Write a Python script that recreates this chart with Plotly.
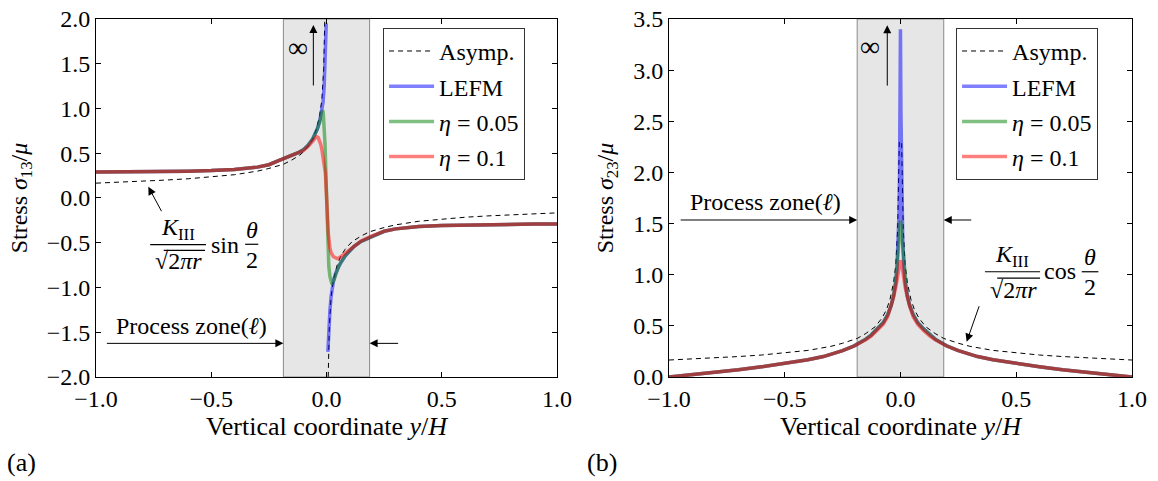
import plotly.graph_objects as go

# ---------------- data ----------------
# (a) stress sigma_13 / mu
x13_asym = [-1.0, -0.9, -0.8, -0.7, -0.6, -0.5, -0.4, -0.3, -0.25, -0.186, -0.15, -0.11, -0.08, -0.06,
            -0.045, -0.03, -0.02, -0.012, -0.008, -0.005, None,
            0.005, 0.008, 0.012, 0.02, 0.03, 0.045, 0.06, 0.08, 0.11, 0.15, 0.186, 0.25, 0.3, 0.4,
            0.5, 0.6, 0.7, 0.8, 0.9, 1.0]
s13_asym = [0.166, 0.176, 0.187, 0.200, 0.215, 0.235, 0.260, 0.300, 0.330, 0.378, 0.425, 0.49, 0.575, 0.66,
            0.76, 0.92, 1.10, 1.45, 1.82, 2.30, None,
            -2.30, -1.82, -1.45, -1.10, -0.92, -0.76, -0.66, -0.575, -0.49, -0.425, -0.378, -0.330, -0.300, -0.260,
            -0.235, -0.215, -0.200, -0.187, -0.176, -0.166]

x13_lefm = [-1.0, -0.9, -0.8, -0.7, -0.6, -0.5, -0.4, -0.3, -0.25, -0.2, -0.15, -0.12, -0.1, -0.08, -0.06,
            -0.05, -0.04, -0.03, -0.02, -0.015, -0.01, -0.007, -0.004, -0.001, None,
            0.006, 0.01, 0.015, 0.02, 0.025, 0.03, 0.04, 0.05, 0.06, 0.08, 0.1, 0.12, 0.15, 0.2, 0.25,
            0.3, 0.4, 0.5, 0.6, 0.7, 0.8, 0.9, 1.0]
s13_lefm = [0.290, 0.291, 0.293, 0.296, 0.300, 0.306, 0.318, 0.345, 0.372, 0.425, 0.475, 0.51, 0.54, 0.59, 0.66,
            0.71, 0.77, 0.85, 0.97, 1.07, 1.25, 1.42, 1.65, 1.95, None,
            -1.72, -1.45, -1.25, -1.10, -1.00, -0.93, -0.84, -0.78, -0.73, -0.65, -0.59, -0.54, -0.485, -0.425, -0.372,
            -0.345, -0.318, -0.306, -0.300, -0.296, -0.293, -0.291, -0.290]

x13_eta005 = [-1.0, -0.9, -0.8, -0.7, -0.6, -0.5, -0.4, -0.3, -0.25, -0.2, -0.15, -0.12, -0.1, -0.08, -0.06,
              -0.05, -0.04, -0.03, -0.025, -0.02, -0.017, -0.014, -0.01, -0.006, -0.003, 0.0,
              0.003, 0.006, 0.01, 0.015, 0.02, 0.024, 0.03, 0.04, 0.05, 0.06, 0.08, 0.1, 0.12, 0.15,
              0.2, 0.25, 0.3, 0.4, 0.5, 0.6, 0.7, 0.8, 0.9, 1.0]
s13_eta005 = [0.290, 0.291, 0.293, 0.296, 0.300, 0.306, 0.318, 0.345, 0.372, 0.425, 0.475, 0.51, 0.54, 0.59, 0.66,
              0.71, 0.77, 0.85, 0.905, 0.96, 0.98, 0.95, 0.82, 0.58, 0.30, 0.0,
              -0.30, -0.55, -0.76, -0.88, -0.95, -0.965, -0.93, -0.84, -0.78, -0.73, -0.65, -0.59, -0.54, -0.485,
              -0.425, -0.372, -0.345, -0.318, -0.306, -0.300, -0.296, -0.293, -0.291, -0.290]

x13_eta01 = [-1.0, -0.9, -0.8, -0.7, -0.6, -0.5, -0.4, -0.3, -0.25, -0.2, -0.15, -0.12, -0.1, -0.08, -0.06,
             -0.05, -0.043, -0.036, -0.03, -0.025, -0.02, -0.015, -0.01, -0.005, 0.0,
             0.004, 0.008, 0.015, 0.02, 0.03, 0.04, 0.047, 0.055, 0.07, 0.087, 0.1, 0.12, 0.15, 0.2,
             0.25, 0.3, 0.4, 0.5, 0.6, 0.7, 0.8, 0.9, 1.0]
s13_eta01 = [0.290, 0.291, 0.293, 0.296, 0.300, 0.306, 0.318, 0.345, 0.372, 0.425, 0.475, 0.505, 0.53, 0.575, 0.635,
             0.665, 0.685, 0.675, 0.64, 0.60, 0.54, 0.47, 0.40, 0.28, 0.03,
             -0.19, -0.40, -0.56, -0.61, -0.655, -0.675, -0.678, -0.67, -0.64, -0.60, -0.575, -0.53, -0.48, -0.42,
             -0.372, -0.345, -0.318, -0.306, -0.300, -0.296, -0.293, -0.291, -0.290]

# (b) stress sigma_23 / mu
x23_asym = [-1.0, -0.9, -0.8, -0.7, -0.6, -0.5, -0.4, -0.3, -0.25, -0.186, -0.15, -0.11, -0.08, -0.06,
            -0.045, -0.03, -0.02, -0.012, -0.008, -0.005,
            0.005, 0.008, 0.012, 0.02, 0.03, 0.045, 0.06, 0.08, 0.11, 0.15, 0.186, 0.25, 0.3, 0.4,
            0.5, 0.6, 0.7, 0.8, 0.9, 1.0]
s23_asym = [0.166, 0.176, 0.187, 0.200, 0.215, 0.235, 0.260, 0.300, 0.330, 0.378, 0.425, 0.49, 0.575, 0.66,
            0.76, 0.92, 1.10, 1.45, 1.82, 2.30,
            2.30, 1.82, 1.45, 1.10, 0.92, 0.76, 0.66, 0.575, 0.49, 0.425, 0.378, 0.330, 0.300, 0.260,
            0.235, 0.215, 0.200, 0.187, 0.176, 0.166]

x23_lefm = [-1.0, -0.9, -0.8, -0.7, -0.6, -0.5, -0.4, -0.333, -0.3, -0.25, -0.2, -0.186, -0.15, -0.127, -0.1,
            -0.075, -0.055, -0.04, -0.03, -0.02, -0.015, -0.01, -0.0065, -0.004, -0.002, 0.0,
            0.002, 0.004, 0.0065, 0.01, 0.015, 0.02, 0.03, 0.04, 0.055, 0.075, 0.1, 0.127, 0.15, 0.186,
            0.2, 0.25, 0.3, 0.333, 0.4, 0.5, 0.6, 0.7, 0.8, 0.9, 1.0]
s23_lefm = [0.0, 0.022, 0.045, 0.070, 0.100, 0.130, 0.168, 0.200, 0.222, 0.258, 0.305, 0.322, 0.37, 0.41, 0.47,
            0.53, 0.61, 0.70, 0.79, 0.93, 1.08, 1.32, 1.58, 2.0, 2.6, 3.40,
            2.6, 2.0, 1.58, 1.32, 1.08, 0.93, 0.79, 0.70, 0.61, 0.53, 0.47, 0.41, 0.37, 0.322,
            0.305, 0.258, 0.222, 0.200, 0.168, 0.130, 0.100, 0.070, 0.045, 0.022, 0.0]

x23_eta005 = [-1.0, -0.9, -0.8, -0.7, -0.6, -0.5, -0.4, -0.333, -0.3, -0.25, -0.2, -0.186, -0.15, -0.127, -0.1,
              -0.075, -0.055, -0.04, -0.03, -0.025, -0.02, -0.016, -0.012, -0.008, -0.004, 0.0,
              0.004, 0.008, 0.012, 0.016, 0.02, 0.025, 0.03, 0.04, 0.055, 0.075, 0.1, 0.127, 0.15, 0.186,
              0.2, 0.25, 0.3, 0.333, 0.4, 0.5, 0.6, 0.7, 0.8, 0.9, 1.0]
s23_eta005 = [0.0, 0.022, 0.045, 0.070, 0.100, 0.130, 0.168, 0.200, 0.222, 0.258, 0.305, 0.322, 0.37, 0.41, 0.47,
              0.53, 0.61, 0.70, 0.79, 0.86, 0.95, 1.05, 1.18, 1.33, 1.46, 1.53,
              1.46, 1.33, 1.18, 1.05, 0.95, 0.86, 0.79, 0.70, 0.61, 0.53, 0.47, 0.41, 0.37, 0.322,
              0.305, 0.258, 0.222, 0.200, 0.168, 0.130, 0.100, 0.070, 0.045, 0.022, 0.0]

x23_eta01 = [-1.0, -0.9, -0.8, -0.7, -0.6, -0.5, -0.4, -0.333, -0.3, -0.25, -0.2, -0.186, -0.15, -0.127, -0.1,
             -0.075, -0.055, -0.04, -0.03, -0.02, -0.012, -0.006, 0.0,
             0.006, 0.012, 0.02, 0.03, 0.04, 0.055, 0.075, 0.1, 0.127, 0.15, 0.186,
             0.2, 0.25, 0.3, 0.333, 0.4, 0.5, 0.6, 0.7, 0.8, 0.9, 1.0]
s23_eta01 = [0.0, 0.022, 0.045, 0.070, 0.100, 0.130, 0.168, 0.200, 0.222, 0.258, 0.303, 0.318, 0.365, 0.40, 0.455,
             0.515, 0.59, 0.69, 0.78, 0.88, 1.0, 1.10, 1.14,
             1.10, 1.0, 0.88, 0.78, 0.69, 0.59, 0.515, 0.455, 0.40, 0.365, 0.318,
             0.303, 0.258, 0.222, 0.200, 0.168, 0.130, 0.100, 0.070, 0.045, 0.022, 0.0]

process_zone = [-0.187, 0.187]
x_ticks = [-1.0, -0.5, 0.0, 0.5, 1.0]
y13_ticks = [-2.0, -1.5, -1.0, -0.5, 0.0, 0.5, 1.0, 1.5, 2.0]
y23_ticks = [0.0, 0.5, 1.0, 1.5, 2.0, 2.5, 3.0, 3.5]
series_names = ["Asymp.", "LEFM", "<i>η</i> = 0.05", "<i>η</i> = 0.1"]

# ---------------- styling ----------------
FONT = "Liberation Serif, Times New Roman, serif"
FS = 24
colors = ["black", "rgba(0,0,255,0.5)", "rgba(0,128,0,0.5)", "rgba(255,0,0,0.5)"]

fig = go.Figure()

panels = [
    ("x", "y", "legend", [(x13_asym, s13_asym), (x13_lefm, s13_lefm), (x13_eta005, s13_eta005), (x13_eta01, s13_eta01)]),
    ("x2", "y2", "legend2", [(x23_asym, s23_asym), (x23_lefm, s23_lefm), (x23_eta005, s23_eta005), (x23_eta01, s23_eta01)]),
]
for xa, ya, leg, series in panels:
    for i, (xs, ys) in enumerate(series):
        if i == 0:
            line = dict(color="black", width=1, dash="5px,4px")
        else:
            line = dict(color=colors[i], width=3.5)
        fig.add_trace(go.Scatter(x=xs, y=ys, mode="lines", name=series_names[i], line=line,
                                 xaxis=xa, yaxis=ya, legend=leg, connectgaps=False,
                                 legendgroup=f"{leg}{i}"))

axis_common = dict(showline=True, linecolor="black", linewidth=1, mirror="ticks", ticks="inside",
                   ticklen=5, tickwidth=1, tickcolor="black", showgrid=False, zeroline=False,
                   tickfont=dict(family=FONT, size=FS, color="black"), tickformat=".1f",
                   automargin=False)
xaxis_extra = dict(ticklabelstandoff=0)

ydom = [0.2162, 0.9605]
xtitle = "Vertical coordinate <i>y</i>/<i>H</i>"
legend_common = dict(y=0.942, xanchor="left", yanchor="top", bgcolor="white",
                     bordercolor="#333333", borderwidth=1, font=dict(family=FONT, size=FS),
                     traceorder="grouped", tracegroupgap=1, itemwidth=45)
fig.update_layout(
    width=1158, height=481,
    margin=dict(l=0, r=0, t=0, b=0),
    paper_bgcolor="white", plot_bgcolor="white",
    font=dict(family=FONT, size=FS, color="black"),
    xaxis=dict(domain=[0.0829, 0.4810], range=[-1, 1], anchor="y", tickvals=x_ticks,
               title=dict(text=xtitle, standoff=0, font=dict(family=FONT, size=26)),
               **axis_common, **xaxis_extra),
    yaxis=dict(domain=ydom, range=[-2, 2], anchor="x", tickvals=y13_ticks,
               title=dict(text="Stress <i>σ</i><sub>13</sub>/<i>μ</i>", standoff=12,
                          font=dict(family=FONT, size=FS)), **axis_common),
    xaxis2=dict(domain=[0.5777, 0.9775], range=[-1, 1], anchor="y2", tickvals=x_ticks,
                title=dict(text=xtitle, standoff=0, font=dict(family=FONT, size=26)),
                **axis_common, **xaxis_extra),
    yaxis2=dict(domain=ydom, range=[0, 3.5], anchor="x2", tickvals=y23_ticks,
                title=dict(text="Stress <i>σ</i><sub>23</sub>/<i>μ</i>", standoff=12,
                           font=dict(family=FONT, size=FS)), **axis_common),
    legend=dict(x=0.3308, **legend_common),
    legend2=dict(x=0.8256, **legend_common),
    showlegend=True,
)

shapes = []
anns = []
for xr, yr in (("x", "y"), ("x2", "y2")):
    shapes.append(dict(type="rect", xref=xr, yref=f"{yr} domain", x0=process_zone[0], x1=process_zone[1],
                       y0=0, y1=1, fillcolor="#e6e6e6", line=dict(color="#8a8a8a", width=1), layer="below"))


def arrow(xr, yr, x, y, ax, ay):
    anns.append(dict(xref=xr, yref=yr, x=x, y=y, ax=ax, ay=ay, text="", showarrow=True,
                     arrowhead=2, arrowsize=1.6, arrowwidth=1, arrowcolor="black", standoff=0))


def label(xr, yr, x, y, text, size=FS, xanchor="center", yanchor="middle"):
    anns.append(dict(xref=xr, yref=yr, x=x, y=y, text=text, showarrow=False, xanchor=xanchor,
                     yanchor=yanchor, font=dict(family=FONT, size=size, color="black")))


def hline(xr, yr, x0, x1, y):
    shapes.append(dict(type="line", xref=xr, yref=yr, x0=x0, x1=x1, y0=y, y1=y,
                       line=dict(color="black", width=1.2), layer="above"))


# ---- panel (a) annotations
arrow("x", "y", -0.057, 1.933, 0, 62)
label("x", "y", -0.122, 1.687, "∞", size=28)
label("x", "y", -0.584, -1.43, "Process zone(<i>ℓ</i>)")
arrow("x", "y", process_zone[0], -1.624, -178, 0)
arrow("x", "y", process_zone[1], -1.624, 30, 0)
# K_III / sqrt(2 pi r) sin(theta/2)
label("x", "y", -0.644, -0.345, "<i>K</i><sub>III</sub>")
hline("x", "y", -0.765, -0.523, -0.520)
label("x", "y", -0.642, -0.700, "√2<i>πr</i>")
hline("x", "y", -0.706, -0.527, -0.585)
label("x", "y", -0.440, -0.520, "sin")
label("x", "y", -0.325, -0.360, "<i>θ</i>")
hline("x", "y", -0.353, -0.296, -0.517)
label("x", "y", -0.325, -0.690, "2")
arrow("x", "y", -0.773, 0.126, 14, 26)

# ---- panel (b) annotations
arrow("x2", "y2", -0.057, 3.44, 0, 62)
label("x2", "y2", -0.132, 3.229, "∞", size=28)
label("x2", "y2", -0.581, 1.714, "Process zone(<i>ℓ</i>)")
arrow("x2", "y2", process_zone[0], 1.535, -178, 0)
arrow("x2", "y2", process_zone[1], 1.535, 29, 0)
label("x2", "y2", 0.484, 1.185, "<i>K</i><sub>III</sub>")
hline("x2", "y2", 0.365, 0.603, 1.029)
label("x2", "y2", 0.487, 0.850, "√2<i>πr</i>")
hline("x2", "y2", 0.418, 0.603, 0.966)
label("x2", "y2", 0.689, 1.035, "cos")
label("x2", "y2", 0.819, 1.170, "<i>θ</i>")
hline("x2", "y2", 0.783, 0.855, 1.029)
label("x2", "y2", 0.819, 0.880, "2")
arrow("x2", "y2", 0.286, 0.345, 13, -37)

# panel letters
label("paper", "paper", 0.004, 0.038, "(a)", size=26, xanchor="left")
label("paper", "paper", 0.505, 0.038, "(b)", size=26, xanchor="left")

fig.update_layout(shapes=shapes, annotations=anns)
fig.write_html("out.html", config={"displayModeBar": False},
               post_script="document.body.style.margin='0px';")
